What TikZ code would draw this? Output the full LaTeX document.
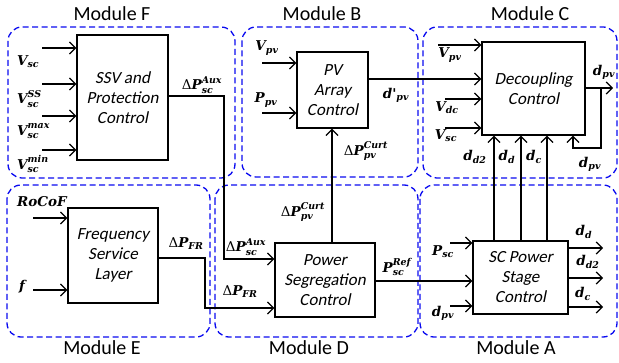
\documentclass[tikz,border=0pt]{standalone}
\usepackage{amsmath}
\usepackage{fontspec}
\setmainfont{Carlito}
\newfontfamily\boxf{Carlito}[FakeSlant=0.2]
\newfontfamily\labf{DejaVu Serif}
\usetikzlibrary{arrows.meta}
\newcommand\lv[1]{\text{\labf\bfseries\itshape #1}}
\newcommand\dl{\text{\labf Δ}}
\begin{document}
\begin{tikzpicture}[x=1pt,y=-1pt,
  module/.style={draw={rgb,255:red,10;green,10;blue,240}, dash pattern=on 6pt off 3.5pt, rounded corners=14pt, line width=1.3pt},
  blk/.style={draw, line width=1.4pt, fill=white, align=center, font=\boxf\fontsize{17}{20}\selectfont, inner sep=0pt},
  con/.style={line width=1.2pt},
  arr/.style={con, -{Straight Barb[length=6pt,width=12pt]}},
  lbl/.style={font=\fontsize{13.5}{15}\selectfont, inner sep=0pt},
  mlbl/.style={font=\fontsize{20}{24}\selectfont, inner sep=0pt}]
\useasboundingbox (0,0) rectangle (619,363);

% modules
\draw[module] (8,27) rectangle (235,178);
\draw[module] (242,27) rectangle (418,177);
\draw[module] (423,27) rectangle (617,178);
\draw[module] (7,185) rectangle (210,337);
\draw[module] (215,185) rectangle (418,337);
\draw[module] (420,185) rectangle (617,337);
\node[mlbl] (mF) at (112,14) {Module F};
\node[mlbl] (mB) at (322,14) {Module B};
\node[mlbl] (mC) at (530,14) {Module C};
\node[mlbl] (mE) at (102,348) {Module E};
\node[mlbl] (mD) at (309,348) {Module D};
\node[mlbl] (mA) at (516,348) {Module A};

% blocks
\node[blk, minimum width=91pt, minimum height=125pt] (ssv) at (122.5,97.5) {SSV and\\Protection\\Control};
\node[blk, minimum width=71pt, minimum height=76pt] (pv) at (332.5,90) {PV\\Array\\Control};
\node[blk, minimum width=103pt, minimum height=93pt] (dec) at (533.5,88.5) {Decoupling\\Control};
\node[blk, minimum width=90pt, minimum height=95pt] (fsl) at (113,255.5) {Frequency\\Service\\Layer};
\node[blk, minimum width=100pt, minimum height=74pt] (psc) at (325,280) {Power\\Segregation\\Control};
\node[blk, minimum width=95pt, minimum height=73pt] (scp) at (520.5,277.5) {SC Power\\Stage\\Control};

% Module F inputs
\coordinate (f1) at (42,48);
\coordinate (f2) at (42,84);
\coordinate (f3) at (42,116);
\coordinate (f4) at (42,150);
\foreach \c in {f1,f2,f3,f4} \draw[arr] (\c) -- (\c -| ssv.west);
\node[lbl, anchor=west] (lf1) at (17,62) {$\lv{V}_{\lv{sc}}$};
\node[lbl, anchor=west] (lf2) at (17,99) {$\lv{V}_{\lv{sc}}^{\lv{SS}}$};
\node[lbl, anchor=west] (lf3) at (17,131) {$\lv{V}_{\lv{sc}}^{\lv{max}}$};
\node[lbl, anchor=west] (lf4) at (17,164) {$\lv{V}_{\lv{sc}}^{\lv{min}}$};

% SSV output to PSC
\coordinate (s1) at (224,96);
\coordinate (s2) at (224,259);
\draw[arr] (ssv.east |- s1) -- (s1) -- (s2) -- (s2 -| psc.west);
\node[lbl] (ls1) at (202,85) {$\dl\lv{P}_{\lv{sc}}^{\lv{Aux}}$};
\node[lbl] (ls2) at (246,247) {$\dl\lv{P}_{\lv{sc}}^{\lv{Aux}}$};

% Module B inputs
\coordinate (b1) at (262,63);
\coordinate (b2) at (262,113);
\draw[arr] (b1) -- (b1 -| pv.west);
\draw[arr] (b2) -- (b2 -| pv.west);
\node[lbl] (lb1) at (267,48) {$\lv{V}_{\lv{pv}}$};
\node[lbl] (lb2) at (266,100) {$\lv{P}_{\lv{pv}}$};

% PV out to decoupling
\coordinate (p1) at (368,79);
\draw[arr] (p1) -- (p1 -| dec.west);
\node[lbl] (lp1) at (396,95) {$\lv{d'}_{\lv{pv}}$};

% PSC to PV
\draw[arr] (psc.north -| 332,0) -- (pv.south -| 332,0);
\node[lbl] (lc1) at (366,151) {$\dl\lv{P}_{\lv{pv}}^{\lv{Curt}}$};
\node[lbl] (lc2) at (303,212) {$\dl\lv{P}_{\lv{pv}}^{\lv{Curt}}$};

% Module C inputs
\coordinate (c1) at (438,45);
\coordinate (c2) at (445,99);
\coordinate (c3) at (445,128);
\foreach \c in {c1,c2,c3} \draw[arr] (\c) -- (\c -| dec.west);
\node[lbl] (lc3) at (450,55) {$\lv{V}_{\lv{pv}}$};
\node[lbl] (lc4) at (447,108) {$\lv{V}_{\lv{dc}}$};
\node[lbl] (lc5) at (446,136) {$\lv{V}_{\lv{sc}}$};

% decoupling output and feedback
\coordinate (o1) at (585,88);
\coordinate (o2) at (613,88);
\coordinate (o3) at (601,88);
\coordinate (o4) at (601,148);
\coordinate (o5) at (573,148);
\draw[arr] (o1) -- (o2);
\draw[arr] (o3) -- (o4) -- (o5) -- (o5 |- dec.south);
\node[lbl] (lo1) at (604,72) {$\lv{d}_{\lv{pv}}$};
\node[lbl] (lo2) at (590,164) {$\lv{d}_{\lv{pv}}$};

% SC to decoupling
\foreach \x in {494,521,547} \draw[arr] (scp.north -| \x,0) -- (dec.south -| \x,0);
\node[lbl] (ld1) at (475,157) {$\lv{d}_{\lv{d2}}$};
\node[lbl] (ld2) at (507,157) {$\lv{d}_{\lv{d}}$};
\node[lbl] (ld3) at (534,157) {$\lv{d}_{\lv{c}}$};

% Module E
\coordinate (e1) at (33,218);
\coordinate (e2) at (33,290);
\draw[arr] (e1) -- (e1 -| fsl.west);
\draw[arr] (e2) -- (e2 -| fsl.west);
\node[lbl] (le1) at (42,202) {$\lv{RoCoF}$};
\node[lbl] (le2) at (22,287) {$\lv{f}$};

% FSL out to PSC
\coordinate (r1) at (205,258);
\coordinate (r2) at (205,308);
\draw[arr] (fsl.east |- r1) -- (r1) -- (r2) -- (r2 -| psc.west);
\node[lbl] (lr1) at (186,244) {$\dl\lv{P}_{\lv{FR}}$};
\node[lbl] (lr2) at (240,292) {$\dl\lv{P}_{\lv{FR}}$};

% PSC to SC
\coordinate (q1) at (375,281);
\draw[arr] (q1) -- (q1 -| scp.west);
\node[lbl] (lq1) at (397,267) {$\lv{P}_{\lv{sc}}^{\lv{Ref}}$};

% Module A inputs
\coordinate (a1) at (450,243);
\coordinate (a2) at (450,306);
\draw[arr] (a1) -- (a1 -| scp.west);
\draw[arr] (a2) -- (a2 -| scp.west);
\node[lbl] (la1) at (443,252) {$\lv{P}_{\lv{sc}}$};
\node[lbl] (la2) at (443,313) {$\lv{d}_{\lv{pv}}$};

% SC outputs
\coordinate (z1) at (603,248);
\coordinate (z2) at (603,278);
\coordinate (z3) at (603,307);
\foreach \c in {z1,z2,z3} \draw[arr] (\c -| scp.east) -- (\c);
\node[lbl] (lz1) at (584,232) {$\lv{d}_{\lv{d}}$};
\node[lbl] (lz2) at (588,262) {$\lv{d}_{\lv{d2}}$};
\node[lbl] (lz3) at (583,294) {$\lv{d}_{\lv{c}}$};
\end{tikzpicture}
\end{document}
